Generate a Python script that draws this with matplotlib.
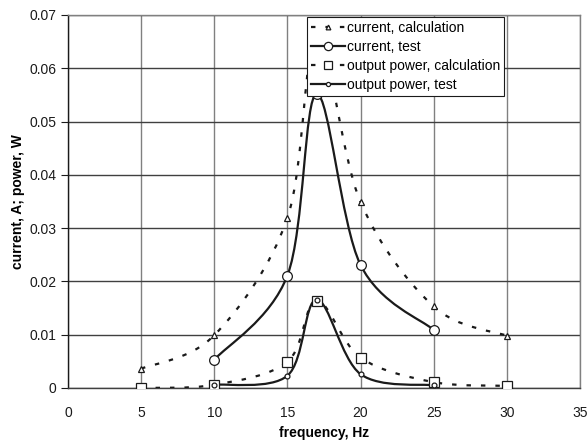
import numpy as np
import matplotlib
matplotlib.use("Agg")
import matplotlib.pyplot as plt
from matplotlib.path import Path
from matplotlib.patches import PathPatch
from matplotlib.lines import Line2D

plt.rcParams["font.family"] = ["Liberation Sans", "DejaVu Sans"]

# data
freq_cur_calc = [5, 10, 15, 17, 20, 25, 30]
cur_calc = [0.0036, 0.0099, 0.0319, 0.066, 0.0349, 0.0153, 0.0098]

freq_cur_test = [10, 15, 17, 20, 25]
cur_test = [0.0053, 0.0211, 0.0552, 0.0231, 0.0109]

freq_pow_calc = [5, 10, 15, 17, 20, 25, 30]
pow_calc = [0.0, 0.0006, 0.0049, 0.0164, 0.0057, 0.0011, 0.0004]

freq_pow_test = [10, 15, 17, 20, 25]
pow_test = [0.0006, 0.0023, 0.0166, 0.0026, 0.0005]


def smooth_path(xs, ys):
    # Excel-style smoothed line: cubic Bezier segments through the points
    p = np.column_stack([xs, ys]).astype(float)
    n = len(p)
    verts = [p[0]]
    codes = [Path.MOVETO]
    for i in range(n - 1):
        p0 = p[i - 1] if i > 0 else p[i]
        p3 = p[i + 2] if i + 2 < n else p[i + 1]
        c1 = p[i] + (p[i + 1] - p0) / 6.0
        c2 = p[i + 1] - (p3 - p[i]) / 6.0
        verts += [c1, c2, p[i + 1]]
        codes += [Path.CURVE4] * 3
    return Path(verts, codes)


fig = plt.figure(figsize=(5.88, 4.41), dpi=100)
ax = fig.add_axes([0.1156, 0.1202, 0.8707, 0.8458])

dash = (0, (2.0, 4.5))
series = [
    (freq_cur_calc, cur_calc, dash, "^", 4, "current, calculation"),
    (freq_cur_test, cur_test, "-", "o", 7, "current, test"),
    (freq_pow_calc, pow_calc, dash, "s", 7, "output power, calculation"),
    (freq_pow_test, pow_test, "-", "o", 3.5, "output power, test"),
]

handles = []
for xs, ys, ls, mk, ms, lab in series:
    ax.add_patch(PathPatch(smooth_path(xs, ys), facecolor="none", edgecolor="#1a1a1a",
                           linewidth=1.6, linestyle=ls, zorder=3))
    ax.plot(xs, ys, linestyle="none", marker=mk, markersize=ms, markerfacecolor="white",
            markeredgecolor="#1a1a1a", markeredgewidth=0.9, zorder=4)
    handles.append(Line2D([], [], color="#1a1a1a", linewidth=1.6, linestyle=ls, marker=mk,
                          markersize=ms * 0.85, markerfacecolor="white",
                          markeredgecolor="#1a1a1a", markeredgewidth=0.9))

ax.set_xlim(0, 35)
ax.set_ylim(0, 0.07)
ax.set_xticks(range(0, 36, 5))
ax.set_yticks(np.arange(0, 0.071, 0.01))
ax.set_yticklabels(["0", "0.01", "0.02", "0.03", "0.04", "0.05", "0.06", "0.07"])
ax.tick_params(axis="y", direction="out", length=5, labelsize=10, colors="#1a1a1a")
ax.tick_params(axis="x", length=0, labelsize=10, pad=13, colors="#1a1a1a")

ax.grid(axis="y", color="#404040", linewidth=1.0)
ax.grid(axis="x", color="#808080", linewidth=1.0)
ax.set_axisbelow(True)
for s in ax.spines.values():
    s.set_color("#808080")
    s.set_linewidth(1.0)
ax.spines["left"].set_color("#1a1a1a")
ax.spines["bottom"].set_color("#404040")

ax.set_xlabel("frequency, Hz", fontsize=10, fontweight="bold", labelpad=4)
ax.set_ylabel("current, A; power, W", fontsize=10, fontweight="bold", labelpad=3)

leg = ax.legend(handles, [h[5] for h in series], loc="upper left",
                bbox_to_anchor=(0.467, 0.995), fontsize=10, handlelength=2.4,
                handletextpad=0.15, borderpad=0.3, labelspacing=0.35,
                fancybox=False, framealpha=1, edgecolor="#1a1a1a", borderaxespad=0)
leg.get_frame().set_linewidth(0.8)
leg.set_zorder(5)

fig.savefig("out.png", dpi=100)
